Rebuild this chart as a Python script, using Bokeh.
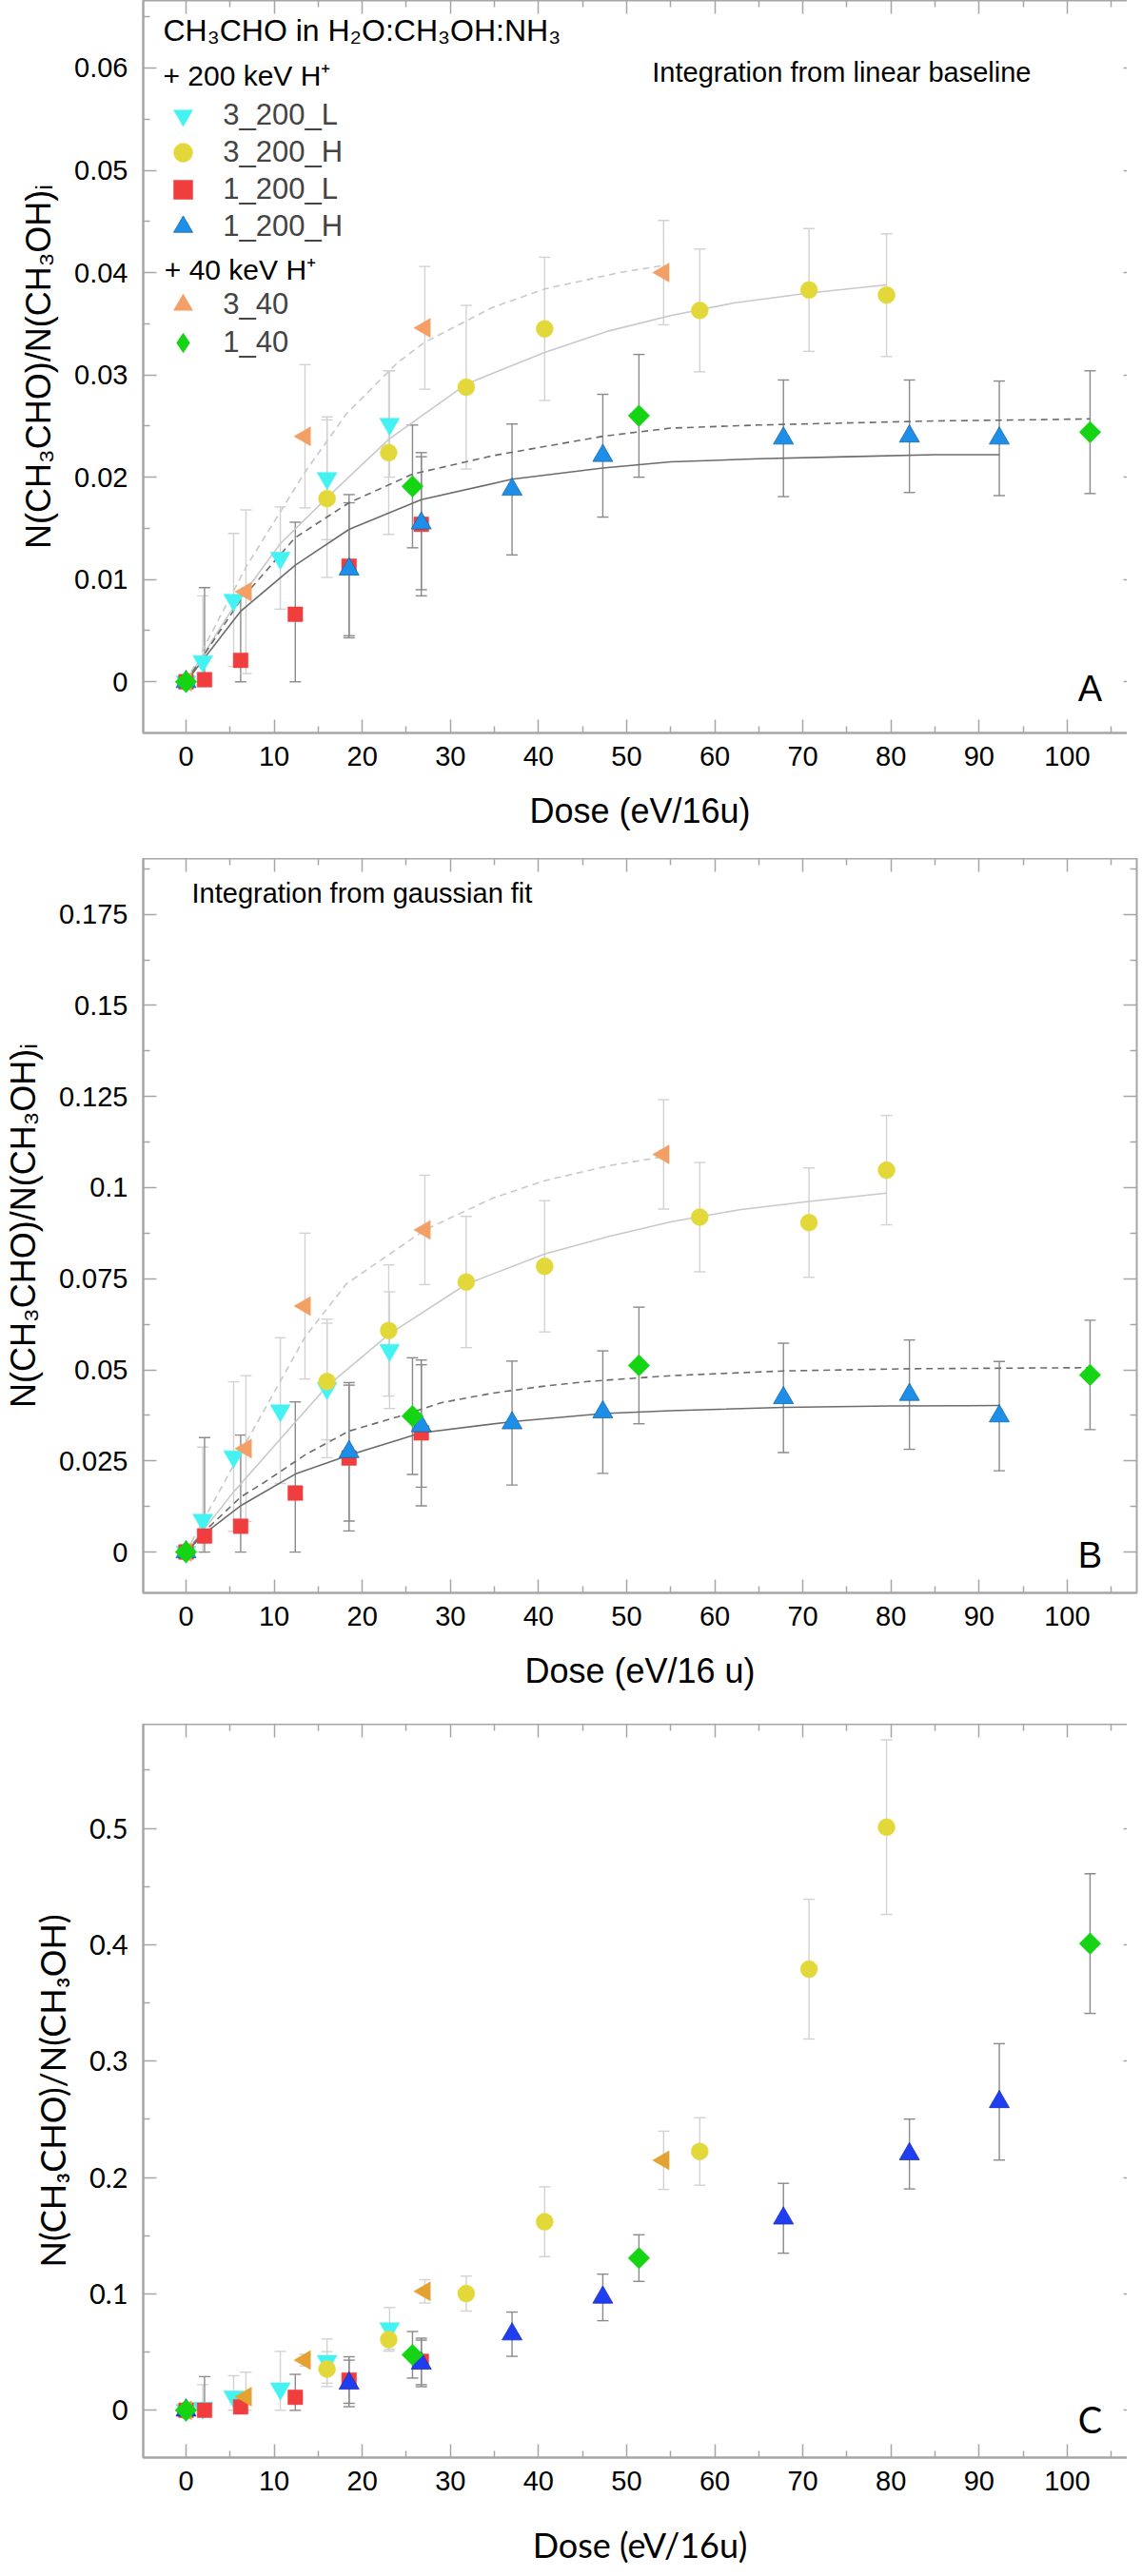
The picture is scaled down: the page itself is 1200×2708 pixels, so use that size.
import math
from bokeh.plotting import figure
from bokeh.layouts import column
from bokeh.models import (ColumnDataSource, Whisker, TeeHead, Legend, LegendItem, Label,
                          LinearAxis, FixedTicker, CustomJSTickFormatter, Range1d)
from bokeh.embed import file_html
from bokeh.resources import INLINE

# doses (eV/16u) of each experiment
dose_3_200_L = [0, 1.9, 5.4, 10.7, 16.0, 23.1]
dose_3_200_H = [0, 16.0, 23.0, 31.8, 40.7, 58.3, 70.7, 79.5]
dose_1_200_L = [0, 2.1, 6.2, 12.4, 18.5, 26.7]
dose_1_200_H = [0, 18.5, 26.7, 37.0, 47.3, 67.8, 82.1, 92.3]
dose_3_40 = [0, 6.8, 13.5, 27.1, 54.2]
dose_1_40 = [0, 25.7, 51.4, 102.6]

# panel A: integration from linear baseline
A_3_200_L = [0, 0.0020, 0.0080, 0.0121, 0.0199, 0.0252]
A_3_200_L_err = [0, 0.0064, 0.0065, 0.0050, 0.0060, 0.0052]
A_3_200_H = [0, 0.0179, 0.0224, 0.0288, 0.0345, 0.0363, 0.0383, 0.0378]
A_3_200_H_err = [0, 0.0077, 0.0080, 0.0080, 0.0070, 0.0060, 0.0060, 0.0060]
A_1_200_L = [0, 0.0002, 0.0021, 0.0066, 0.0113, 0.0154]
A_1_200_L_err = [0, 0.0090, 0.0063, 0.0090, 0.0070, 0.0070]
A_1_200_H = [0, 0.0110, 0.0155, 0.0188, 0.0221, 0.0238, 0.0240, 0.0238]
A_1_200_H_err = [0, 0.0065, 0.0065, 0.0064, 0.0060, 0.0057, 0.0055, 0.0056]
A_3_40 = [0, 0.0088, 0.0240, 0.0346, 0.0400]
A_3_40_err = [0, 0.0080, 0.0070, 0.0060, 0.0051]
A_1_40 = [0, 0.0191, 0.0260, 0.0244]
A_1_40_err = [0, 0.0060, 0.0060, 0.0060]

# panel A fit curves
A_fit_3_200_H_x = [0, 5, 10.7, 16, 23, 31.8, 40.7, 48, 55, 62, 70.7, 79.5]
A_fit_3_200_H_y = [0, 0.0068, 0.0135, 0.0180, 0.0237, 0.0291, 0.0322, 0.0343, 0.0358, 0.0370, 0.0380, 0.0388]
A_fit_3_40_x = [0, 6.8, 13.5, 18.2, 24, 27.1, 34.8, 40.7, 49.2, 54.2]
A_fit_3_40_y = [0, 0.0112, 0.0205, 0.0262, 0.0312, 0.0332, 0.0366, 0.0384, 0.0400, 0.0407]
A_fit_1_200_H_x = [0, 6.2, 12.4, 18.5, 26.7, 37, 47.3, 55, 65, 75, 85, 92.3]
A_fit_1_200_H_y = [0, 0.0069, 0.0114, 0.0149, 0.0178, 0.0198, 0.0209, 0.0215, 0.0218, 0.0220, 0.0222, 0.0222]
A_fit_1_40_x = [0, 6.2, 12.4, 18.5, 25.7, 34.8, 47.3, 55, 65, 75, 85, 95, 102.6]
A_fit_1_40_y = [0, 0.0080, 0.0141, 0.0175, 0.0203, 0.0221, 0.0240, 0.0248, 0.0251, 0.0253, 0.0255, 0.0256, 0.0257]

# panel B: integration from gaussian fit
B_3_200_L = [0, 0.0088, 0.0262, 0.0388, 0.0449, 0.0554]
B_3_200_L_err = [0, 0.020, 0.0205, 0.020, 0.019, 0.016]
B_3_200_H = [0, 0.0468, 0.0608, 0.0741, 0.0784, 0.0919, 0.0904, 0.1048]
B_3_200_H_err = [0, 0.016, 0.018, 0.018, 0.018, 0.015, 0.015, 0.015]
B_1_200_L = [0, 0.0044, 0.0071, 0.0162, 0.0258, 0.0327]
B_1_200_L_err = [0, 0.027, 0.025, 0.025, 0.020, 0.020]
B_1_200_H = [0, 0.0275, 0.0346, 0.0354, 0.0384, 0.0423, 0.0432, 0.0373]
B_1_200_H_err = [0, 0.019, 0.0168, 0.017, 0.0168, 0.015, 0.015, 0.015]
B_3_40 = [0, 0.0284, 0.0675, 0.0884, 0.1091]
B_3_40_err = [0, 0.020, 0.020, 0.015, 0.015]
B_1_40 = [0, 0.0373, 0.0512, 0.0486]
B_1_40_err = [0, 0.016, 0.016, 0.015]

B_fit_3_200_H_x = [0, 5.4, 10.7, 16, 23, 31.8, 40.7, 48, 55, 63, 70.7, 79.5]
B_fit_3_200_H_y = [0, 0.0165, 0.0310, 0.0455, 0.0597, 0.0735, 0.0818, 0.0866, 0.0906, 0.0940, 0.0962, 0.0985]
B_fit_3_40_x = [0, 6.8, 13.5, 18.2, 27.1, 34.8, 40.7, 48, 54.2]
B_fit_3_40_y = [0, 0.0300, 0.0590, 0.0736, 0.0884, 0.0971, 0.1019, 0.1060, 0.1085]
B_fit_1_200_H_x = [0, 2, 6.2, 12.4, 18.5, 26.7, 37, 47.3, 55, 67.8, 80, 92.3]
B_fit_1_200_H_y = [0, 0.0049, 0.0127, 0.0214, 0.0266, 0.0327, 0.0358, 0.0380, 0.0388, 0.0397, 0.0401, 0.0402]
B_fit_1_40_x = [0, 2, 6.2, 8.8, 13.6, 18.5, 24, 29, 34.8, 40.2, 45.6, 55, 67.8, 82, 102.6]
B_fit_1_40_y = [0, 0.0055, 0.0151, 0.0190, 0.0268, 0.0332, 0.0371, 0.0410, 0.0436, 0.0454, 0.0468,
                0.0484, 0.0497, 0.0503, 0.0506]

# panel C: N(CH3CHO)/N(CH3OH)
C_3_200_L = [0, 0.0020, 0.0117, 0.0186, 0.0423, 0.0703]
C_3_200_L_err = [0, 0.020, 0.018, 0.032, 0.019, 0.018]
C_3_200_H = [0, 0.0354, 0.0608, 0.1003, 0.162, 0.2224, 0.379, 0.501]
C_3_200_H_err = [0, 0.015, 0.010, 0.015, 0.030, 0.029, 0.060, 0.075]
C_1_200_L = [0, 0.0, 0.003, 0.0112, 0.026, 0.042]
C_1_200_L_err = [0, 0.029, 0.006, 0.0197, 0.020, 0.020]
C_1_200_H = [0, 0.0231, 0.0403, 0.0654, 0.097, 0.165, 0.2202, 0.265]
C_1_200_H_err = [0, 0.020, 0.020, 0.019, 0.020, 0.030, 0.030, 0.050]
C_3_40 = [0, 0.0117, 0.0431, 0.1022, 0.2148]
C_3_40_err = [0, 0.021, 0.005, 0.010, 0.025]
C_1_40 = [0, 0.0477, 0.1308, 0.401]
C_1_40_err = [0, 0.020, 0.020, 0.060]

# ticks
x_ticks = [0, 10, 20, 30, 40, 50, 60, 70, 80, 90, 100]
x_minor = [5, 15, 25, 35, 45, 55, 65, 75, 85, 95, 105]
A_ticks = [0, 0.01, 0.02, 0.03, 0.04, 0.05, 0.06]
A_minor = [0.005, 0.015, 0.025, 0.035, 0.045, 0.055, 0.065]
B_ticks = [0, 0.025, 0.05, 0.075, 0.1, 0.125, 0.15, 0.175]
B_minor = [0.0125, 0.0375, 0.0625, 0.0875, 0.1125, 0.1375, 0.1625, 0.1875]
C_ticks = [0, 0.1, 0.2, 0.3, 0.4, 0.5]
C_minor = [0.05, 0.15, 0.25, 0.35, 0.45, 0.55]

# legend rows: name, row centre (px below frame top)
legend_names = ["3_200_L", "3_200_H", "1_200_L", "1_200_H", "3_40", "1_40"]
legend_rows = [121, 160, 199, 238, 320, 360]

FONT = "Liberation Sans"
FONT_C = "Lato"
LIGHT = "#c9c9c9"
DARK = "#6c6c6c"
ERR_LIGHT = "#d2d2d2"
ERR_DARK = "#8a8a8a"
FRAME = "#a6a6a6"

cyan, yellow, red, blue, orange, green = "#45f2f2", "#e2d83a", "#f03e3e", "#1d8fe8", "#f2a066", "#14d414"
orange_c, blue_c = "#e3a232", "#1f3ef2"

MARKERS = {
    "3_200_L": dict(marker="inverted_triangle", size=21, angle=0),
    "3_200_H": dict(marker="circle", size=18, angle=0),
    "1_200_L": dict(marker="square", size=15.5, angle=0),
    "1_200_H": dict(marker="triangle", size=21, angle=0),
    "3_40": dict(marker="triangle", size=20, angle=math.pi / 2),
    "1_40": dict(marker="square", size=16, angle=math.pi / 4),
}


def make_fig(y0, y1, y_ticks, y_minor, frame_h, bottom, ylabel, xlabel, lab_font):
    p = figure(frame_width=1044, frame_height=frame_h, x_range=Range1d(-4.86, 107.9),
               y_range=Range1d(y0, y1), output_backend="svg", toolbar_location=None,
               min_border_left=138, min_border_right=2, min_border_top=0, min_border_bottom=bottom)
    p.xgrid.visible = False
    p.ygrid.visible = False
    p.outline_line_color = FRAME
    p.outline_line_width = 2
    p.background_fill_color = "white"
    p.border_fill_color = "white"
    xt = FixedTicker(ticks=x_ticks, minor_ticks=x_minor)
    yt = FixedTicker(ticks=y_ticks, minor_ticks=y_minor)
    p.xaxis.ticker = xt
    p.yaxis.ticker = yt
    p.yaxis.formatter = CustomJSTickFormatter(code="return tick.toString()")
    for ax in (p.xaxis, p.yaxis):
        ax.axis_line_color = FRAME
        ax.axis_line_width = 2
        ax.major_tick_in = 14
        ax.major_tick_out = 0
        ax.minor_tick_in = 7
        ax.minor_tick_out = 0
        ax.major_tick_line_color = FRAME
        ax.minor_tick_line_color = FRAME
        ax.major_tick_line_width = 1.5
        ax.minor_tick_line_width = 1.5
        ax.major_label_text_font = FONT
        ax.major_label_text_font_size = "29px"
        ax.major_label_text_color = "black"
        ax.axis_label_text_font = lab_font
        ax.axis_label_text_font_size = "36px"
        ax.axis_label_text_font_style = "normal"
        ax.axis_label_text_color = "black"
    p.xaxis.major_label_standoff = 14
    p.xaxis.axis_label_standoff = 24
    p.yaxis.major_label_standoff = 16
    p.yaxis.axis_label_standoff = 14
    p.xaxis.axis_label = xlabel
    p.yaxis.axis_label = ylabel
    # mirrored ticks on top and right (labels not drawn)
    for place, tk in (("above", xt), ("right", yt)):
        ax = LinearAxis(ticker=tk, axis_line_color=None, major_tick_in=14, major_tick_out=0,
                        minor_tick_in=7, minor_tick_out=0, major_tick_line_color=FRAME,
                        minor_tick_line_color=FRAME, major_tick_line_width=1.5,
                        minor_tick_line_width=1.5, major_label_text_font_size="1px",
                        major_label_text_color=None, major_label_standoff=0)
        p.add_layout(ax, place)
    return p


def add_fit(p, xs, ys, color, dash):
    p.line(xs, ys, line_color=color, line_width=1.6, line_dash=dash)


def add_series(p, key, dose, vals, errs, color, err_color, outline=None):
    keep = [i for i in range(len(dose)) if errs[i] > 0]
    src = ColumnDataSource(dict(
        x=[dose[i] for i in keep],
        up=[vals[i] + errs[i] for i in keep],
        lo=[max(0.0, vals[i] - errs[i]) for i in keep]))
    w = Whisker(base="x", upper="up", lower="lo", source=src, line_color=err_color, line_width=1.4,
                upper_head=TeeHead(size=12, line_color=err_color, line_width=1.4),
                lower_head=TeeHead(size=12, line_color=err_color, line_width=1.4),
                level="underlay")
    p.add_layout(w)
    m = MARKERS[key]
    r = p.scatter(dose, vals, marker=m["marker"], size=m["size"], angle=m["angle"],
                  fill_color=color, line_color=outline if outline else color,
                  line_width=0.8 if outline else 0.5)
    return r


def panel_label(p, x, y, text, font):
    p.add_layout(Label(x=x, y=y, text=text, text_font=font, text_font_size="38px",
                       text_align="center", text_baseline="middle", text_color="black"))


def note(p, x, y, text, size="29px", align="left"):
    p.add_layout(Label(x=x, y=y, text=text, text_font=FONT, text_font_size=size,
                       text_align=align, text_baseline="middle", text_color="black"))


ylab_i = "N(CH\u2083CHO)/N(CH\u2083OH)\u1d62"

# ---- panel A
pA = make_fig(-0.005, 0.0666, A_ticks, A_minor, 770, 132, ylab_i, "Dose (eV/16u)", FONT)
add_fit(pA, A_fit_3_40_x, A_fit_3_40_y, LIGHT, "7 5")
add_fit(pA, A_fit_3_200_H_x, A_fit_3_200_H_y, LIGHT, "solid")
add_fit(pA, A_fit_1_40_x, A_fit_1_40_y, DARK, "7 5")
add_fit(pA, A_fit_1_200_H_x, A_fit_1_200_H_y, DARK, "solid")
rA = {}
rA["3_200_L"] = add_series(pA, "3_200_L", dose_3_200_L, A_3_200_L, A_3_200_L_err, cyan, ERR_LIGHT)
rA["3_200_H"] = add_series(pA, "3_200_H", dose_3_200_H, A_3_200_H, A_3_200_H_err, yellow, ERR_LIGHT)
rA["1_200_L"] = add_series(pA, "1_200_L", dose_1_200_L, A_1_200_L, A_1_200_L_err, red, ERR_DARK)
rA["1_200_H"] = add_series(pA, "1_200_H", dose_1_200_H, A_1_200_H, A_1_200_H_err, blue, ERR_DARK, "#1467a8")
rA["3_40"] = add_series(pA, "3_40", dose_3_40, A_3_40, A_3_40_err, orange, ERR_LIGHT)
# legend keys ignore marker angle, so 1_40 gets a diamond key drawn under its rotated squares
rA["1_40"] = pA.scatter(dose_1_40, A_1_40, marker="diamond", size=18, fill_color=green, line_color=green)
add_series(pA, "1_40", dose_1_40, A_1_40, A_1_40_err, green, ERR_DARK)

# one legend per row so each row sits where the reference has it
for name, row in zip(legend_names, legend_rows):
    leg = Legend(items=[LegendItem(label=name, renderers=[rA[name]])],
                 location=(32, 770 - row - 25), glyph_width=50, glyph_height=50, label_height=50,
                 spacing=0, padding=0, margin=0, label_standoff=17, label_text_font=FONT,
                 label_text_font_size="31px", border_line_color=None, background_fill_alpha=0)
    pA.add_layout(leg)

note(pA, -2.6, 0.0637, "CH\u2083CHO in H\u2082O:CH\u2083OH:NH\u2083", "32px")
note(pA, -2.6, 0.0593, "+ 200 keV H\u207a", "30px")
note(pA, -2.45, 0.0403, "+ 40 keV H\u207a", "30px")
note(pA, 52.9, 0.0596, "Integration from linear baseline")
panel_label(pA, 102.6, -0.00065, "A", FONT)

# ---- panel B
pB = make_fig(-0.0112, 0.1903, B_ticks, B_minor, 772, 138, ylab_i, "Dose (eV/16 u)", FONT)
add_fit(pB, B_fit_3_40_x, B_fit_3_40_y, LIGHT, "7 5")
add_fit(pB, B_fit_3_200_H_x, B_fit_3_200_H_y, LIGHT, "solid")
add_fit(pB, B_fit_1_40_x, B_fit_1_40_y, DARK, "7 5")
add_fit(pB, B_fit_1_200_H_x, B_fit_1_200_H_y, DARK, "solid")
add_series(pB, "3_200_L", dose_3_200_L, B_3_200_L, B_3_200_L_err, cyan, ERR_LIGHT)
add_series(pB, "3_200_H", dose_3_200_H, B_3_200_H, B_3_200_H_err, yellow, ERR_LIGHT)
add_series(pB, "1_200_L", dose_1_200_L, B_1_200_L, B_1_200_L_err, red, ERR_DARK)
add_series(pB, "1_200_H", dose_1_200_H, B_1_200_H, B_1_200_H_err, blue, ERR_DARK, "#1467a8")
add_series(pB, "3_40", dose_3_40, B_3_40, B_3_40_err, orange, ERR_LIGHT)
add_series(pB, "1_40", dose_1_40, B_1_40, B_1_40_err, green, ERR_DARK)
note(pB, 0.65, 0.1807, "Integration from gaussian fit")
panel_label(pB, 102.6, -0.0008, "B", FONT)

# ---- panel C
pC = make_fig(-0.0406, 0.5895, C_ticks, C_minor, 771, 109, "N(CH\u2083CHO)/N(CH\u2083OH)", "Dose (eV/16u)", FONT_C)
pC.yaxis.major_label_text_font = FONT_C
pC.xaxis.axis_label_standoff = 32
add_series(pC, "3_200_L", dose_3_200_L, C_3_200_L, C_3_200_L_err, cyan, ERR_LIGHT)
add_series(pC, "3_200_H", dose_3_200_H, C_3_200_H, C_3_200_H_err, yellow, ERR_LIGHT)
add_series(pC, "1_200_L", dose_1_200_L, C_1_200_L, C_1_200_L_err, red, ERR_DARK)
add_series(pC, "1_200_H", dose_1_200_H, C_1_200_H, C_1_200_H_err, blue_c, ERR_DARK, "#1a30b0")
add_series(pC, "3_40", dose_3_40, C_3_40, C_3_40_err, orange_c, ERR_LIGHT)
add_series(pC, "1_40", dose_1_40, C_1_40, C_1_40_err, green, ERR_DARK)
panel_label(pC, 102.6, -0.0074, "C", FONT_C)

p = column(pA, pB, pC, spacing=0)
open("out.html", "w").write(file_html(p, INLINE))
